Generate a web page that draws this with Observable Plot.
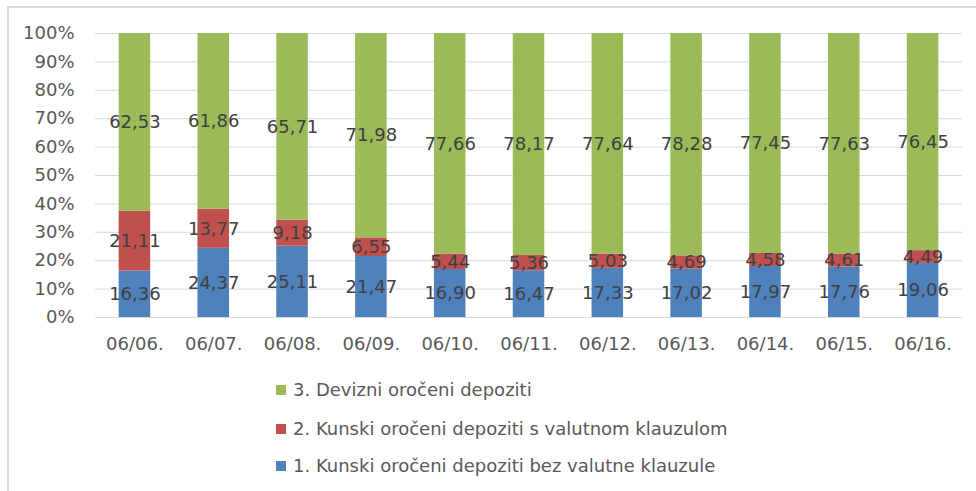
<!DOCTYPE html>
<html><head><meta charset="utf-8">
<script src="https://cdn.jsdelivr.net/npm/d3@7"></script>
<script src="https://cdn.jsdelivr.net/npm/@observablehq/plot@0.6"></script>
<style>
body{margin:0;background:#fff;}
#wrap{position:relative;width:976px;height:491px;overflow:hidden;font-family:"DejaVu Sans";background:#fff;}
#wrap svg{position:absolute;left:0;top:0;}
.bt{position:absolute;left:7px;top:6px;width:969px;height:2px;background:#d9d9d9;}
.bl{position:absolute;left:7px;top:6px;width:2px;height:485px;background:#d9d9d9;}
.leg{position:absolute;left:276px;height:20px;line-height:20px;font-size:18px;color:#595959;white-space:nowrap;}
.leg span.sw{position:absolute;left:0;top:5px;width:10px;height:10px;}
.leg span.tx{position:absolute;left:17px;top:0;}
</style></head><body><div id="wrap"><div class="bt"></div><div class="bl"></div></div>
<script>
const periods = ["06/06.","06/07.","06/08.","06/09.","06/10.","06/11.","06/12.","06/13.","06/14.","06/15.","06/16."];
const series = ["1. Kunski oročeni depoziti bez valutne klauzule","2. Kunski oročeni depoziti s valutnom klauzulom","3. Devizni oročeni depoziti"];
const colors = ["#4F81BD","#C0504D","#9BBB59"];
const s1 = [16.36,24.37,25.11,21.47,16.90,16.47,17.33,17.02,17.97,17.76,19.06];
const s2 = [21.11,13.77,9.18,6.55,5.44,5.36,5.03,4.69,4.58,4.61,4.49];
const s3 = [62.53,61.86,65.71,71.98,77.66,78.17,77.64,78.28,77.45,77.63,76.45];
const yTicks = [0,10,20,30,40,50,60,70,80,90,100];

const values = [s1, s2, s3];
const data = [];
periods.forEach((p, i) => {
  series.forEach((s, j) => data.push({period: p, series: s, value: values[j][i]}));
});
const fmt = v => v.toFixed(2).replace(".", ",");

const chart = Plot.plot({
  width: 976, height: 360,
  marginLeft: 95, marginRight: 14, marginTop: 33, marginBottom: 43,
  style: {fontFamily: "DejaVu Sans", fontSize: "18px", color: "#595959", background: "transparent"},
  x: {domain: periods, paddingInner: 0.6, paddingOuter: 0.3, round: false, label: null},
  y: {domain: [0, 100], label: null},
  color: {domain: series, range: colors},
  marks: [
    Plot.ruleY(yTicks, {stroke: "#d9d9d9", strokeWidth: 1}),
    Plot.barY(data, {x: "period", y: "value", z: "series", fill: "series"}),
    Plot.text(data, Plot.stackY({x: "period", y: "value", z: "series", text: d => fmt(d.value), fill: "#404040", fontSize: 18})),
    Plot.axisX({tickSize: 0, tickPadding: 20, fill: "#595959", fontSize: 18}),
    Plot.axisY({ticks: yTicks, tickSize: 0, tickPadding: 21, tickFormat: d => d + "%", fill: "#595959", fontSize: 18})
  ]
});
const wrap = document.getElementById("wrap");
wrap.appendChild(chart);

const legTops = [380, 418.5, 456];
[2, 1, 0].forEach((j, k) => {
  const row = document.createElement("div");
  row.className = "leg";
  row.style.top = legTops[k] + "px";
  const sw = document.createElement("span");
  sw.className = "sw";
  sw.style.background = colors[j];
  const tx = document.createElement("span");
  tx.className = "tx";
  tx.textContent = series[j];
  row.appendChild(sw); row.appendChild(tx);
  wrap.appendChild(row);
});
</script>
</body></html>
